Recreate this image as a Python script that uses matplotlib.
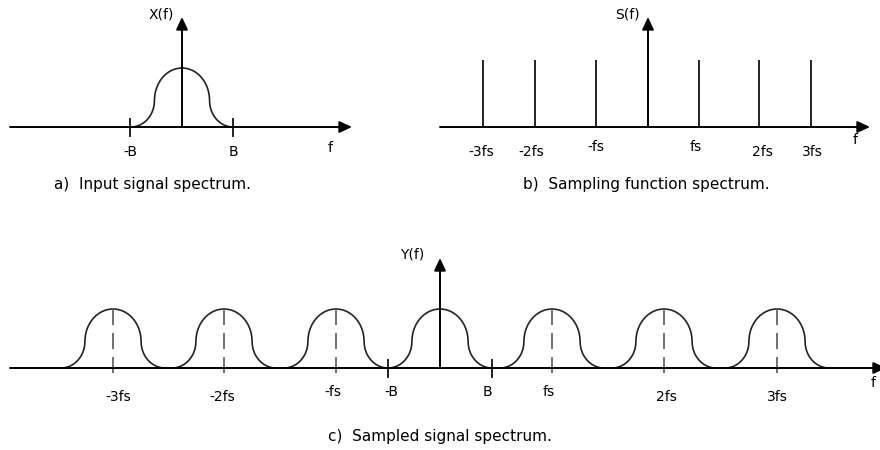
import matplotlib.pyplot as plt
import numpy as np

plt.rcParams['font.family'] = ['DejaVu Sans']

W, H = 880, 450

# panel a: input spectrum (units: pixels from the origin of the panel)
a_B = 51
a_height = 59
a_ticks = [-52, 51]
a_tick_labels = ["-B", "B"]

# panel b: sampling impulses
b_pos = [-165, -113, -52, 51, 111, 163]
b_height = 67
b_labels = ["-3fs", "-2fs", "-fs", "fs", "2fs", "3fs"]
b_label_x = [-167, -117, -52, 48, 114, 164]
b_label_y = [-25, -25, -20, -20, -25, -25]

# panel c: sampled spectrum
c_centers = [-327, -216, -104, 0, 112, 224, 337]
c_B = 52
c_height = 59
c_labels = ["-3fs", "-2fs", "-fs", "-B", "B", "fs", "2fs", "3fs"]
c_label_x = [-322, -218, -107, -49, 47, 109, 226, 337]
c_label_y = [-29, -29, -24, -24, -24, -24, -29, -29]

line_col = "#222222"


def pulse(x, c, B, h):
    # rounded bump: elliptic top arc + elliptic bottom arcs
    u = np.abs(x - c)
    a = 0.54 * B
    m = 0.45 * h
    y = np.zeros_like(x)
    top = u <= a
    y[top] = m + (h - m) * np.sqrt(1 - (u[top] / a) ** 2)
    bot = (u > a) & (u <= B)
    y[bot] = m * (1 - np.sqrt(np.clip(1 - ((B - u[bot]) / (B - a)) ** 2, 0, 1)))
    return y


def make_panel(fig, ox, oy):
    ax = fig.add_axes([0, 0, 1, 1])
    ax.set_xlim(-ox, W - ox)
    ax.set_ylim(-(H - oy), oy)
    ax.axis("off")
    ax.patch.set_alpha(0)
    return ax


def arrow(ax, x0, y0, x1, y1):
    ax.annotate("", xy=(x1, y1), xytext=(x0, y0), annotation_clip=False,
                arrowprops=dict(arrowstyle="-|>,head_length=0.75,head_width=0.35",
                                lw=1.4, color="black", shrinkA=0, shrinkB=0,
                                mutation_scale=10))


fig = plt.figure(figsize=(W / 100, H / 100), dpi=100)

# ---- a) ----
ax = make_panel(fig, 182, 127)
arrow(ax, -172, 0, 170, 0)
arrow(ax, 0, 0, 0, 110)
x = np.linspace(-a_B, a_B, 400)
ax.plot(x, pulse(x, 0, a_B, a_height), color=line_col, lw=1.2)
for t, lab in zip(a_ticks, a_tick_labels):
    ax.plot([t, t], [8, -9], color=line_col, lw=1.4)
    ax.text(t, -25, lab, ha="center", va="center", fontsize=10)
ax.text(148, -21, "f", ha="center", va="center", fontsize=10)
ax.text(-21, 113, "X(f)", ha="center", va="center", fontsize=10)
ax.text(-30, -58, "a)  Input signal spectrum.", ha="center", va="center", fontsize=11)

# ---- b) ----
ax = make_panel(fig, 648, 127)
arrow(ax, -208, 0, 222, 0)
arrow(ax, 0, 0, 0, 110)
ax.vlines(b_pos, 0, b_height, color=line_col, lw=1.4)
for lx, ly, lab in zip(b_label_x, b_label_y, b_labels):
    ax.text(lx, ly, lab, ha="center", va="center", fontsize=10)
ax.text(207, -13, "f", ha="center", va="center", fontsize=10)
ax.text(-21, 113, "S(f)", ha="center", va="center", fontsize=10)
ax.text(-2, -58, "b)  Sampling function spectrum.", ha="center", va="center", fontsize=11)

# ---- c) ----
ax = make_panel(fig, 440, 368)
arrow(ax, -430, 0, 446, 0)
arrow(ax, 0, 0, 0, 110)
for c in c_centers:
    x = np.linspace(c - c_B, c + c_B, 400)
    ax.plot(x, pulse(x, c, c_B, c_height), color=line_col, lw=1.2)
    if c != 0:
        ax.plot([c, c], [c_height, -9], color="#666666", lw=1.3,
                linestyle=(0, (8.9, 4.4)))
for t in [-c_B, c_B]:
    ax.plot([t, t], [8, -9], color=line_col, lw=1.4)
for lx, ly, lab in zip(c_label_x, c_label_y, c_labels):
    ax.text(lx, ly, lab, ha="center", va="center", fontsize=10)
ax.text(433, -15, "f", ha="center", va="center", fontsize=10)
ax.text(-28, 113, "Y(f)", ha="center", va="center", fontsize=10)
ax.text(0, -69, "c)  Sampled signal spectrum.", ha="center", va="center", fontsize=11)

fig.savefig("out.png", dpi=100)
